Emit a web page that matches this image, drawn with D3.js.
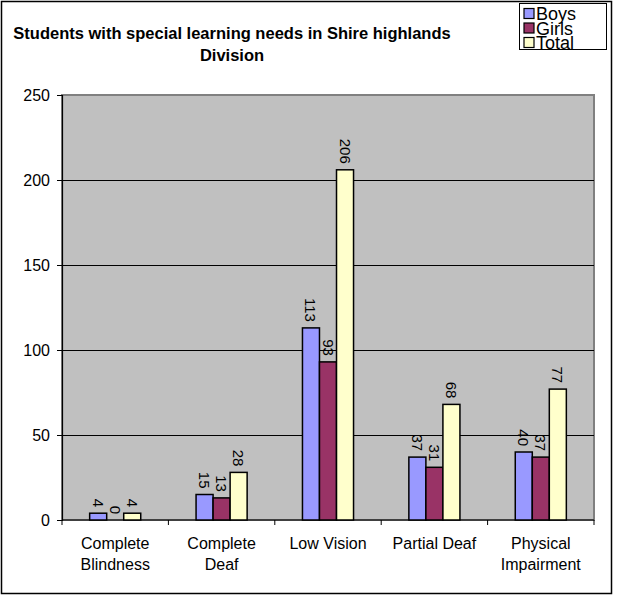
<!DOCTYPE html>
<html>
<head>
<meta charset="utf-8">
<script src="https://cdn.jsdelivr.net/npm/d3@7"></script>
<style>
  body { margin: 0; background: #fff; }
  text { font-family: "Liberation Sans", Arial, sans-serif; }
</style>
</head>
<body>
<svg id="chart" width="624" height="596"></svg>
<script>
const categories = [["Complete", "Blindness"], ["Complete", "Deaf"], ["Low Vision"], ["Partial Deaf"], ["Physical", "Impairment"]];
const seriesNames = ["Boys", "Girls", "Total"];
const boys = [4, 15, 113, 37, 40];
const girls = [0, 13, 93, 31, 37];
const total = [4, 28, 206, 68, 77];
const yTicks = [0, 50, 100, 150, 200, 250];
const colors = ["#9999FF", "#993366", "#FFFFCC"];
const titleLines = ["Students with special learning needs in Shire highlands", "Division"];

const seriesValues = [boys, girls, total];
const svg = d3.select("#chart");

// outer frame
svg.append("rect").attr("x", 1.5).attr("y", 1.5).attr("width", 610).attr("height", 592)
  .attr("fill", "#fff").attr("stroke", "#000").attr("stroke-width", 1.5);

const plot = { left: 62, right: 594, top: 95, bottom: 520 };
const x0 = d3.scaleBand().domain(d3.range(categories.length)).range([plot.left, plot.right]).padding(0);
const groupW = x0.bandwidth() * 0.48;
const x1 = d3.scaleBand().domain(d3.range(seriesNames.length))
  .range([(x0.bandwidth() - groupW) / 2, (x0.bandwidth() + groupW) / 2]).padding(0);
const y = d3.scaleLinear().domain([0, 250]).range([plot.bottom, plot.top]);

// plot background
svg.append("rect").attr("x", plot.left).attr("y", plot.top)
  .attr("width", plot.right - plot.left).attr("height", plot.bottom - plot.top)
  .attr("fill", "#C0C0C0").attr("stroke", "#808080").attr("stroke-width", 2);

// gridlines
svg.append("g").selectAll("line").data(yTicks.filter(t => t > 0 && t < 250)).join("line")
  .attr("x1", plot.left).attr("x2", plot.right)
  .attr("y1", d => Math.round(y(d)) + 0.5).attr("y2", d => Math.round(y(d)) + 0.5)
  .attr("stroke", "#000").attr("stroke-width", 1);

// y axis
const yAxis = svg.append("g").attr("transform", `translate(${plot.left},0)`)
  .call(d3.axisLeft(y).tickValues(yTicks).tickSize(5).tickPadding(7));
yAxis.select(".domain").attr("stroke", "#000").attr("stroke-width", 1.2);
yAxis.selectAll("text").attr("font-size", 16).attr("fill", "#000")
  .style("font-family", '"Liberation Sans", Arial, sans-serif');

// x axis
const xAxisG = svg.append("g").attr("transform", `translate(0,${plot.bottom})`);
xAxisG.append("line").attr("x1", plot.left).attr("x2", plot.right).attr("y1", 0).attr("y2", 0)
  .attr("stroke", "#000").attr("stroke-width", 1.2);
const bounds = d3.range(categories.length + 1).map(i => i < categories.length ? x0(i) : x0(i - 1) + x0.bandwidth());
xAxisG.selectAll("line.tick").data(bounds).join("line").attr("class", "tick")
  .attr("x1", d => d).attr("x2", d => d).attr("y1", 0).attr("y2", 5)
  .attr("stroke", "#000").attr("stroke-width", 1);
const catLabels = xAxisG.selectAll("text.cat").data(categories).join("text").attr("class", "cat")
  .attr("x", (d, i) => x0(i) + x0.bandwidth() / 2).attr("y", 28.5)
  .attr("text-anchor", "middle").attr("font-size", 16).attr("fill", "#000");
catLabels.each(function(d) {
  const t = d3.select(this);
  d.forEach((line, k) => {
    t.append("tspan").attr("x", t.attr("x")).attr("dy", k === 0 ? 0 : 21).text(line);
  });
});

// bars
const groups = svg.append("g").selectAll("g").data(categories).join("g")
  .attr("transform", (d, i) => `translate(${x0(i)},0)`);
groups.each(function(d, ci) {
  const g = d3.select(this);
  seriesValues.forEach((vals, si) => {
    const v = vals[ci];
    if (v > 0) {
      g.append("rect").attr("x", x1(si)).attr("y", y(v))
        .attr("width", x1.bandwidth()).attr("height", y(0) - y(v))
        .attr("fill", colors[si]).attr("stroke", "#000").attr("stroke-width", 1.5);
    }
    g.append("text")
      .attr("transform", `translate(${x1(si) + x1.bandwidth() / 2},${y(v) - 6}) rotate(90)`)
      .attr("text-anchor", "end").attr("dominant-baseline", "central")
      .attr("font-size", 15).attr("fill", "#000").text(v);
  });
});

// title
const title = svg.append("text").attr("x", 232).attr("y", 39).attr("text-anchor", "middle")
  .attr("font-size", 16.5).attr("font-weight", "bold").attr("fill", "#000");
titleLines.forEach((l, k) => title.append("tspan").attr("x", 232).attr("dy", k === 0 ? 0 : 22).text(l));

// legend
const legend = svg.append("g").attr("transform", "translate(519,3)");
legend.append("rect").attr("x", 0.5).attr("y", 0.5).attr("width", 87).attr("height", 46)
  .attr("fill", "#fff").attr("stroke", "#000").attr("stroke-width", 1);
seriesNames.forEach((s, i) => {
  const ly = 10.5 + i * 14.5;
  legend.append("rect").attr("x", 5).attr("y", ly - 5).attr("width", 10).attr("height", 10)
    .attr("fill", colors[i]).attr("stroke", "#000").attr("stroke-width", 1.2);
  legend.append("text").attr("x", 17).attr("y", ly + 0.5).attr("dominant-baseline", "central")
    .attr("font-size", 18).attr("fill", "#000").text(s);
});
</script>
</body>
</html>
